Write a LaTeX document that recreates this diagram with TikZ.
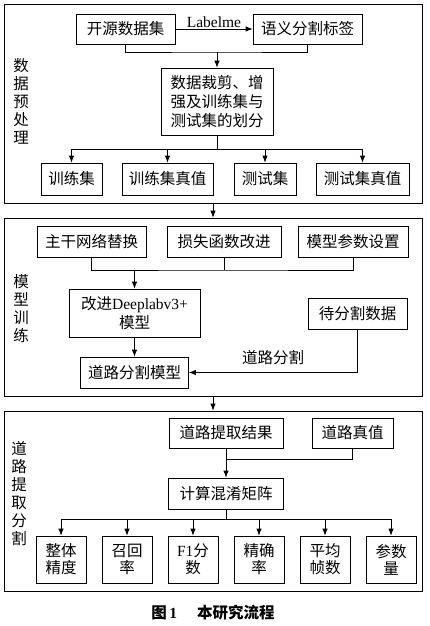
\documentclass[tikz,border=0pt]{standalone}
\usepackage{fontspec}
\setmainfont{Noto Sans CJK SC}
\newfontfamily\lat{Liberation Serif}
\usetikzlibrary{arrows.meta}
\begin{document}
\begin{tikzpicture}[x=1pt,y=-1pt,
  box/.style={draw,line width=0.8pt,inner sep=0pt,align=center,
    font=\fontsize{15.5}{19}\selectfont},
  grp/.style={draw,line width=0.8pt,inner sep=0pt},
  side/.style={inner sep=0pt,align=center,font=\fontsize{15.5}{18}\selectfont},
  conn/.style={line width=0.8pt},
  arr/.style={line width=0.8pt,-{Latex[length=7pt,width=5.5pt]}},
  small/.style={box,font=\fontsize{15.5}{17}\selectfont,minimum width=50,minimum height=47}]
\useasboundingbox (0,0) rectangle (430,626);
% groups
\node[grp,minimum width=418,minimum height=199] (g1) at (213,103.5) {};
\node[grp,minimum width=418,minimum height=178] (g2) at (213,307) {};
\node[grp,minimum width=418,minimum height=180] (g3) at (213,501) {};
\draw[arr] (g1.south) -- (g2.north);
\draw[arr] (g2.south) -- (g3.north);
% side labels
\node[side] (s1) at (21,101) {数\\据\\预\\处\\理};
\node[side] (s2) at (21,309) {模\\型\\训\\练};
\node[side] (s3) at (19,494) {道\\路\\提\\取\\分\\割};
% block 1
\node[box,minimum width=99,minimum height=30] (a1) at (125.5,29) {开源数据集};
\node[box,minimum width=109,minimum height=30] (a2) at (307.5,29) {语义分割标签};
\draw[arr] (a1.east) -- node[above=0pt,inner sep=1pt,font=\lat\fontsize{15.5}{18}\selectfont] (lbl1) {Labelme} (a2.west);
\node[box,minimum width=112,minimum height=67] (a3) at (217,101.5) {数据裁剪、增\\强及训练集与\\测试集的划分};
\coordinate (j1) at (217,52);
\draw[conn] (a1.south) |- (j1) -| (a2.south);
\draw[arr] (j1) -- (a3.north);
\node[box,minimum width=61,minimum height=32] (b1) at (71.5,179) {训练集};
\node[box,minimum width=91,minimum height=32] (b2) at (167.5,179) {训练集真值};
\node[box,minimum width=62,minimum height=32] (b3) at (265,179) {测试集};
\node[box,minimum width=93,minimum height=32] (b4) at (362.5,179) {测试集真值};
\coordinate (j2) at (217,149);
\draw[conn] (a3.south) -- (j2);
\draw[conn] (b1.north |- j2) -- (b4.north |- j2);
\foreach \n in {b1,b2,b3,b4} \draw[arr] (\n.north |- j2) -- (\n.north);
% block 2
\node[box,minimum width=109,minimum height=31] (c1) at (91.5,241.5) {主干网络替换};
\node[box,minimum width=114,minimum height=31] (c2) at (224,241.5) {损失函数改进};
\node[box,minimum width=110,minimum height=31] (c3) at (353,241.5) {模型参数设置};
\coordinate (j3) at (224,270);
\draw[conn] (c1.south) |- (j3) -| (c3.south);
\draw[conn] (c2.south) -- (j3);
\node[box,minimum width=131,minimum height=48] (d1) at (134.5,313) {改进{\lat Deeplabv3+}\\模型};
\draw[arr] (d1.north |- j3) -- (d1.north);
\node[box,minimum width=108,minimum height=31] (d2) at (134.5,372.5) {道路分割模型};
\draw[arr] (d1.south) -- (d2.north);
\node[box,minimum width=99,minimum height=31] (d3) at (357.5,313.5) {待分割数据};
\draw[arr] (d3.south) |- (d2.east);
\node[inner sep=0pt,font=\fontsize{15.5}{18}\selectfont] (lbl2) at (273,358) {道路分割};
% block 3
\node[box,minimum width=114,minimum height=30] (e1) at (226,433) {道路提取结果};
\node[box,minimum width=81,minimum height=30] (e2) at (352.5,433) {道路真值};
\coordinate (j4) at (226,459);
\draw[conn] (e2.south) |- (j4);
\node[box,minimum width=115,minimum height=31] (e3) at (226,493.5) {计算混淆矩阵};
\draw[arr] (e1.south) -- (e3.north);
\coordinate (j5) at (226,519);
\draw[conn] (e3.south) -- (j5);
\node[small] (f1) at (61,559.5) {整体\\精度};
\node[small] (f2) at (127,559.5) {召回\\率};
\node[small] (f3) at (193,559.5) {{\lat F1}分\\数};
\node[small] (f4) at (259,559.5) {精确\\率};
\node[small] (f5) at (325,559.5) {平均\\帧数};
\node[small] (f6) at (391,559.5) {参数\\量};
\draw[conn] (f1.north |- j5) -- (f6.north |- j5);
\foreach \n in {f1,f2,f3,f4,f5,f6} \draw[arr] (\n.north |- j5) -- (\n.north);
% caption
\node[inner sep=0pt,font=\bfseries\fontsize{15.5}{18}\selectfont] (cap) at (213,613) {图{\lat\bfseries\,1}\hspace{1.3em}本研究流程};
\end{tikzpicture}
\end{document}
